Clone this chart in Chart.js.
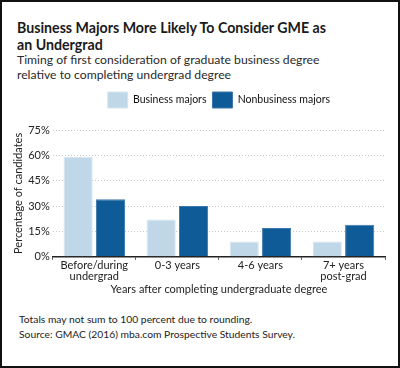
<!DOCTYPE html>
<html>
<head>
<meta charset="utf-8">
<script src="https://cdn.jsdelivr.net/npm/chart.js@4.4.1/dist/chart.umd.min.js"></script>
<style>
  html, body { margin: 0; padding: 0; background: #fff; }
  #frame { position: relative; width: 400px; height: 368px; box-sizing: border-box; border: 2px solid #111; overflow: hidden; font-family: "Lato", sans-serif; color: #222; }
  #title { position: absolute; left: 15px; top: 17px; width: 315px; font-weight: bold; font-size: 14.2px; line-height: 17px; color: #1a1a1a; }
  #subtitle { position: absolute; left: 15px; top: 51px; width: 335px; font-size: 12.2px; line-height: 14.5px; color: #2a2a2a; }
  #chartbox { position: absolute; left: -2px; top: 84px; width: 400px; height: 210px; }
  .note { position: absolute; left: 17px; font-size: 10.3px; color: #222; }
</style>
</head>
<body>
<div id="frame">
  <div id="title">Business Majors More Likely To Consider GME as an Undergrad</div>
  <div id="subtitle">Timing of first consideration of graduate business degree relative to completing undergrad degree</div>
  <div id="chartbox"><canvas id="c" width="400" height="210"></canvas></div>
  <div class="note" style="top:311px">Totals may not sum to 100 percent due to rounding.</div>
  <div class="note" style="top:326px">Source: GMAC (2016) mba.com Prospective Students Survey.</div>
</div>
<script>
const categories = [["Before/during", "undergrad"], "0-3 years", "4-6 years", ["7+ years", "post-grad"]];
const businessMajors = [59, 22, 9, 9];
const nonbusinessMajors = [34, 30, 17, 19];
const yTicks = [0, 15, 30, 45, 60, 75];

Chart.defaults.font.family = "Lato, sans-serif";
Chart.defaults.color = "#222";

const legendSpacer = {
  id: "legendSpacer",
  beforeInit(chart) {
    const origFit = chart.legend.fit;
    chart.legend.fit = function () {
      origFit.bind(chart.legend)();
      this.height += 12;
    };
  },
  afterLayout(chart) {
    const lg = chart.legend, ca = chart.chartArea;
    lg.left = ca.left;
    lg.right = ca.right;
    lg.width = ca.right - ca.left;
  }
};

new Chart(document.getElementById("c"), {
  type: "bar",
  plugins: [legendSpacer],
  data: {
    labels: categories,
    datasets: [
      { label: "Business majors", data: businessMajors, backgroundColor: "#c0d7e7", borderColor: "#d6e5f0", borderWidth: 1, categoryPercentage: 0.78, barPercentage: 0.9 },
      { label: "Nonbusiness majors", data: nonbusinessMajors, backgroundColor: "#0f5b97", borderColor: "#3b78ad", borderWidth: 1, categoryPercentage: 0.78, barPercentage: 0.9 }
    ]
  },
  options: {
    responsive: false,
    animation: false,
    layout: { padding: { left: 10, right: 15, top: 0, bottom: 0 } },
    plugins: {
      legend: {
        position: "top",
        labels: { boxWidth: 20, boxHeight: 16, font: { size: 10.5 }, color: "#111", padding: 6 }
      },
      tooltip: { enabled: false }
    },
    scales: {
      x: {
        grid: { display: true, drawOnChartArea: false, offset: true, tickLength: 3, color: "#555" },
        border: { display: true, color: "#222", width: 1.5 },
        ticks: { font: { size: 11, lineHeight: 1.0 }, color: "#222", padding: 0, maxRotation: 0 },
        title: { display: true, text: "Years after completing undergraduate degree", font: { size: 11 }, color: "#222", padding: { top: 1, bottom: 0 } }
      },
      y: {
        min: 0, max: 75,
        afterBuildTicks: (axis) => { axis.ticks = yTicks.map(v => ({ value: v })); },
        grid: { color: "#c8c8c8", drawTicks: false },
        border: { display: false, dash: [1, 2] },
        ticks: { font: { size: 11 }, color: "#222", padding: 3, callback: v => v + "%" },
        title: { display: true, text: "Percentage of candidates", font: { size: 11 }, color: "#222", padding: { top: 2, bottom: 0 } }
      }
    }
  }
});
</script>
</body>
</html>
